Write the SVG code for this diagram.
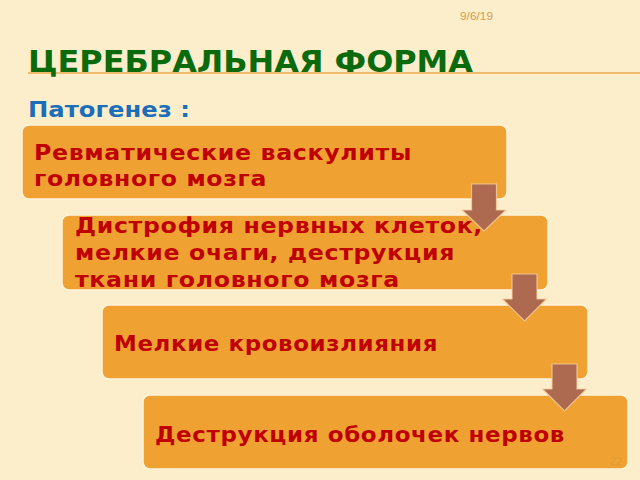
<svg xmlns="http://www.w3.org/2000/svg" width="640" height="480" viewBox="0 0 640 480">
<defs>
<style>
.box{fill:#EFA232;stroke:#FDF3DC;stroke-width:1.5}
.t{font-family:"DejaVu Sans",sans-serif;font-weight:bold;font-size:22px;fill:#C00000;letter-spacing:0.6px}
.arr{fill:#AE6A50;stroke:#F7CFA0;stroke-width:1.2;stroke-opacity:0.8}
</style>
</defs>
<rect width="640" height="480" fill="#FCEECB"/>
<text x="460" y="20" font-family="Liberation Sans Narrow, Liberation Sans, sans-serif" font-size="11" fill="#D79B4C" textLength="33" lengthAdjust="spacingAndGlyphs">9/6/19</text>
<line x1="28" y1="73" x2="640" y2="73" stroke="#EBA94C" stroke-width="1.5"/>
<text x="28" y="72" font-family="DejaVu Sans, sans-serif" font-weight="bold" font-size="30" fill="#0B6A0B" textLength="445" lengthAdjust="spacingAndGlyphs">ЦЕРЕБРАЛЬНАЯ ФОРМА</text>
<text x="28" y="117" font-family="DejaVu Sans, sans-serif" font-weight="bold" font-size="22" fill="#1C6EBA" textLength="162" lengthAdjust="spacingAndGlyphs">Патогенез :</text>
<g id="node1">
<rect class="box" x="22" y="125" width="485" height="74" rx="7"/>
<text class="t" x="34" y="160" textLength="378" lengthAdjust="spacingAndGlyphs">Ревматические васкулиты</text>
<text class="t" x="34" y="186" textLength="233" lengthAdjust="spacingAndGlyphs">головного мозга</text>
</g>
<g id="node2">
<rect class="box" x="62" y="215" width="486" height="75" rx="7"/>
<text class="t" x="75" y="233" textLength="408" lengthAdjust="spacingAndGlyphs">Дистрофия нервных клеток,</text>
<text class="t" x="75" y="260" textLength="380" lengthAdjust="spacingAndGlyphs">мелкие очаги, деструкция</text>
<text class="t" x="75" y="287" textLength="325" lengthAdjust="spacingAndGlyphs">ткани головного мозга</text>
</g>
<g id="node3">
<rect class="box" x="102" y="305" width="486" height="74" rx="7"/>
<text class="t" x="114" y="351" textLength="324" lengthAdjust="spacingAndGlyphs">Мелкие кровоизлияния</text>
</g>
<g id="node4">
<rect class="box" x="143" y="395" width="485" height="74" rx="7"/>
<text class="t" x="155" y="442" textLength="410" lengthAdjust="spacingAndGlyphs">Деструкция оболочек нервов</text>
<text x="610" y="465" font-family="Liberation Sans, sans-serif" font-size="11" fill="#E09A35">22</text>
</g>
<g id="connectors">
<path class="arr" d="M471.5,184 H496.5 V210 H506 L484,231 L462,210 H471.5 Z"/>
<path class="arr" d="M512,274 H537 V299 H546.5 L524.5,321 L502.5,299 H512 Z"/>
<path class="arr" d="M552,364 H577 V389 H586.5 L564.5,411 L542.5,389 H552 Z"/>
</g>
</svg>
